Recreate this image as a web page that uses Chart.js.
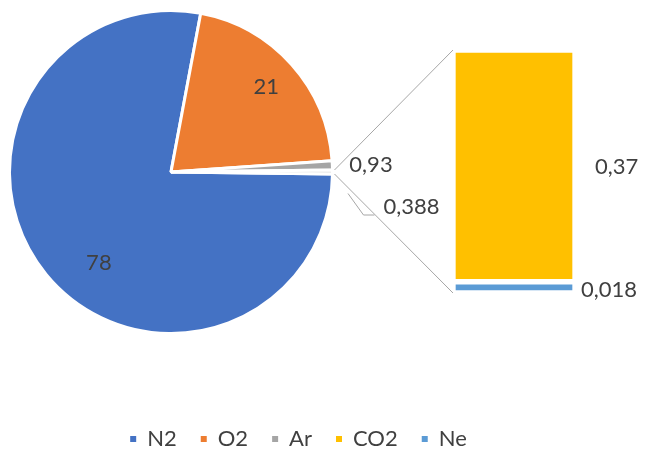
<!DOCTYPE html>
<html>
<head>
<meta charset="utf-8">
<script src="https://cdn.jsdelivr.net/npm/chart.js@4.4.1/dist/chart.umd.min.js"></script>
<style>
  html, body { margin: 0; padding: 0; background: #ffffff; overflow: hidden; }
  #wrap { position: relative; width: 646px; height: 460px; }
  #wrap canvas { position: absolute; left: 0; top: 0; }
</style>
</head>
<body>
<div id="wrap">
  <canvas id="pie" width="646" height="460"></canvas>
  <canvas id="bar" width="646" height="460"></canvas>
</div>
<script>
// Main gases, shown as pie slices
const pieLabels = ['N2', 'O2', 'Ar'];
const pieValues = [78, 21, 0.93];
// Trace gases, split out of the pie into the stacked bar
const barLabels = ['CO2', 'Ne'];
const barValues = [0.37, 0.018];
const otherLabel = 'Other';

// Palette
const pieColors = ['#4472C4', '#ED7D31', '#A5A5A5', '#D9D9D9'];
const barColors = ['#FFC000', '#5B9BD5'];
const textColor = '#404040';
const lineColor = '#A6A6A6';
const fontFamily = 'Lato, "Open Sans", "Noto Sans", sans-serif';
const fontSize = 22;

// The "other" slice is the sum of the split-out gases
const otherValue = Number(barValues.reduce((a, b) => a + b, 0).toFixed(6));
const sliceValues = pieValues.concat([otherValue]);
const sliceTotal = sliceValues.reduce((a, b) => a + b, 0);
// Centre the "other" slice on the 3 o'clock direction
const pieRotation = 90 + otherValue / sliceTotal * 180;

const fmt = v => String(v).replace('.', ',');

// Label placement per slice: inside labels at a fraction of the sweep and radius,
// outside labels offset from the slice's outer midpoint
const pieLabelPlacement = [
  { inside: true, at: 0.456, r: 0.72 },
  { inside: true, at: 0.5, r: 0.79 },
  { dx: 17, dy: 0 },
  { dx: 51, dy: 35, leader: true }
];
// Bar labels sit to the right of each segment (CO2, Ne)
const barLabelPlacement = [
  { dx: 20, dy: 1 },
  { dx: 6, dy: 3 }
];

const pieLabelPlugin = {
  id: 'pieLabels',
  afterDatasetsDraw(chart) {
    const ctx = chart.ctx;
    const arcs = chart.getDatasetMeta(0).data;
    const values = chart.data.datasets[0].data;
    ctx.save();
    ctx.font = fontSize + 'px ' + fontFamily;
    ctx.fillStyle = textColor;
    ctx.textBaseline = 'middle';
    arcs.forEach((arc, i) => {
      const p = pieLabelPlacement[i];
      const { x, y, startAngle, endAngle, outerRadius } =
        arc.getProps(['x', 'y', 'startAngle', 'endAngle', 'outerRadius'], true);
      const text = fmt(values[i]);
      if (p.inside) {
        const a = startAngle + (endAngle - startAngle) * p.at;
        ctx.textAlign = 'center';
        ctx.fillText(text, x + Math.cos(a) * outerRadius * p.r, y + Math.sin(a) * outerRadius * p.r);
      } else {
        const a = (startAngle + endAngle) / 2;
        const ex = x + Math.cos(a) * outerRadius;
        const ey = y + Math.sin(a) * outerRadius;
        const lx = ex + p.dx;
        const ly = ey + p.dy;
        ctx.textAlign = 'left';
        ctx.fillText(text, lx, ly);
        if (p.leader) {
          const ax = lx - 9, ay = ly + 8;
          const bx = lx - 20, by = ay;
          const cx = bx + (ex - bx) * 0.5, cy = by + (ey - by) * 0.5;
          ctx.strokeStyle = lineColor;
          ctx.lineWidth = 1;
          ctx.beginPath();
          ctx.moveTo(ax, ay);
          ctx.lineTo(bx, by);
          ctx.lineTo(cx, cy);
          ctx.stroke();
        }
      }
    });
    ctx.restore();
  }
};

let pieChart = null;

const connectorPlugin = {
  id: 'connectors',
  afterDatasetsDraw(chart) {
    const ctx = chart.ctx;
    const arcs = pieChart.getDatasetMeta(0).data;
    const arc = arcs[arcs.length - 1];
    const { x, y, startAngle, endAngle, outerRadius } =
      arc.getProps(['x', 'y', 'startAngle', 'endAngle', 'outerRadius'], true);
    const r = outerRadius + 2;
    const n = chart.data.datasets.length;
    const bottomBar = chart.getDatasetMeta(0).data[0].getProps(['x', 'y', 'base', 'width'], true);
    const topBar = chart.getDatasetMeta(n - 1).data[0].getProps(['x', 'y', 'base', 'width'], true);
    ctx.save();
    ctx.strokeStyle = lineColor;
    ctx.lineWidth = 1;
    ctx.beginPath();
    ctx.moveTo(x + Math.cos(startAngle) * r, y + Math.sin(startAngle) * r);
    ctx.lineTo(topBar.x - topBar.width / 2, topBar.y);
    ctx.moveTo(x + Math.cos(endAngle) * r, y + Math.sin(endAngle) * r);
    ctx.lineTo(bottomBar.x - bottomBar.width / 2, bottomBar.base);
    ctx.stroke();
    ctx.restore();
  }
};

const barLabelPlugin = {
  id: 'barLabels',
  afterDatasetsDraw(chart) {
    const ctx = chart.ctx;
    ctx.save();
    ctx.font = fontSize + 'px ' + fontFamily;
    ctx.fillStyle = textColor;
    ctx.textBaseline = 'middle';
    ctx.textAlign = 'left';
    chart.data.datasets.forEach((ds, di) => {
      const k = barLabels.indexOf(ds.label);
      const p = barLabelPlacement[k];
      const bar = chart.getDatasetMeta(di).data[0].getProps(['x', 'y', 'base', 'width'], true);
      ctx.fillText(fmt(ds.data[0]), bar.x + bar.width / 2 + p.dx, (bar.y + bar.base) / 2 + p.dy);
    });
    ctx.restore();
  }
};

function build() {
  Chart.defaults.font.family = fontFamily;
  Chart.defaults.color = textColor;

  pieChart = new Chart(document.getElementById('pie'), {
    type: 'pie',
    data: {
      labels: pieLabels.concat([otherLabel]),
      datasets: [{
        data: sliceValues,
        backgroundColor: pieColors,
        borderColor: '#ffffff',
        borderWidth: 3
      }]
    },
    options: {
      responsive: false,
      animation: false,
      devicePixelRatio: 1,
      rotation: pieRotation,
      radius: 161.5,
      layout: { padding: { left: 1, top: 2, right: 305, bottom: 118 } },
      plugins: { legend: { display: false }, tooltip: { enabled: false } }
    },
    plugins: [pieLabelPlugin]
  });

  // Stack from the bottom up: Ne below CO2
  const barDatasets = barLabels.map((label, i) => ({
    label,
    data: [barValues[i]],
    backgroundColor: barColors[i]
  })).reverse();

  new Chart(document.getElementById('bar'), {
    type: 'bar',
    data: { labels: [''], datasets: barDatasets },
    options: {
      responsive: false,
      animation: false,
      devicePixelRatio: 1,
      layout: { padding: { left: 0, right: 49, top: 50, bottom: 0 } },
      datasets: {
        bar: { barThickness: 122, borderColor: '#ffffff', borderWidth: 3, borderSkipped: false }
      },
      scales: {
        x: {
          stacked: true,
          grid: { display: false },
          border: { display: false },
          ticks: { display: false },
          afterFit(scale) { scale.height = 111; }
        },
        y: {
          stacked: true,
          min: 0,
          max: otherValue,
          grid: { display: false },
          border: { display: false },
          ticks: { display: false },
          afterFit(scale) { scale.width = 431; }
        }
      },
      plugins: {
        tooltip: { enabled: false },
        legend: {
          position: 'bottom',
          onClick: () => {},
          labels: {
            boxWidth: 6,
            boxHeight: 6,
            padding: 24,
            color: textColor,
            font: { family: fontFamily, size: fontSize },
            generateLabels() {
              const names = pieLabels.concat(barLabels);
              const colors = pieColors.slice(0, pieLabels.length).concat(barColors);
              return names.map((text, i) => ({
                text,
                fillStyle: colors[i],
                strokeStyle: colors[i],
                lineWidth: 0,
                hidden: false,
                index: i,
                fontColor: textColor
              }));
            }
          }
        }
      }
    },
    plugins: [barLabelPlugin, connectorPlugin]
  });
}

if (document.fonts && document.fonts.load) {
  document.fonts.load(fontSize + 'px Lato').then(build, build);
} else {
  build();
}
</script>
</body>
</html>
